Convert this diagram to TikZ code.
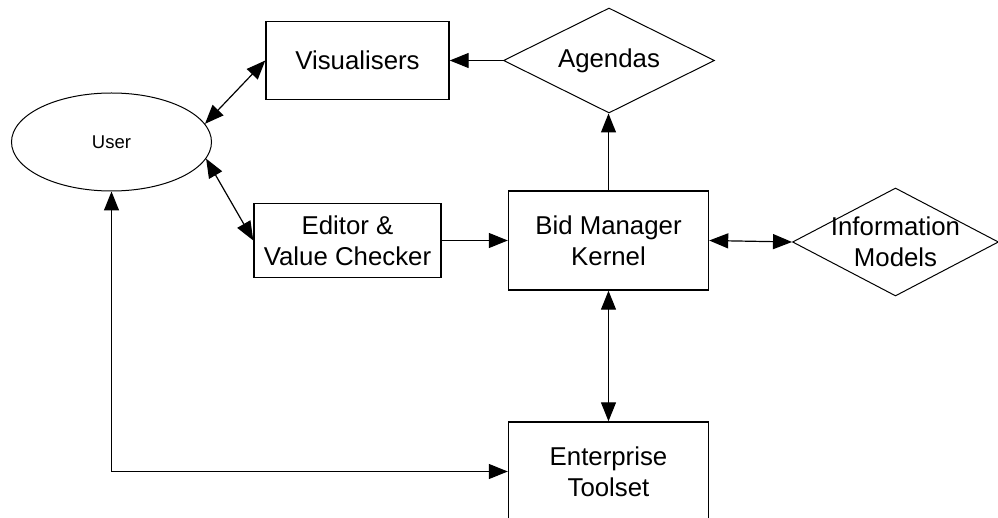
\documentclass[tikz,border=0pt]{standalone}
\usepackage{fontspec}
\setmainfont{Liberation Sans}
\usetikzlibrary{shapes.geometric,arrows.meta}

\begin{document}
\begin{tikzpicture}[x=1pt,y=-1pt,
  mainfont/.style={font=\fontsize{25.8}{31}\selectfont},
  box/.style={draw, line width=1.4pt, inner sep=0pt, align=center, mainfont},
  rhomb/.style={draw, diamond, line width=1pt, inner sep=0pt},
  tip/.tip={Triangle[length=19pt,width=15pt]},
  conn/.style={line width=1.2pt, -tip},
  biconn/.style={line width=1.2pt, tip-tip}]

  % canvas
  \fill[white] (0,0) rectangle (998,518);
  \useasboundingbox (0,0) rectangle (998,518);

  % actor
  \node[draw, ellipse, line width=1pt, inner sep=0pt,
        minimum width=200pt, minimum height=98pt,
        font=\fontsize{18.5}{22}\selectfont] (user) at (111.5,142) {User};

  % components
  \node[box, minimum width=183pt, minimum height=78pt] (vis) at (357.5,60.5) {Visualisers};
  \node[box, minimum width=187pt, minimum height=74pt] (edit) at (347.5,240.5) {Editor \&\\Value Checker};
  \node[box, minimum width=200pt, minimum height=99pt] (bid) at (608.5,240.5) {Bid Manager\\Kernel};
  \node[box, minimum width=200pt, minimum height=99pt] (ent) at (608.5,471.5) {Enterprise\\Toolset};

  % data stores
  \node[rhomb, minimum width=211pt, minimum height=105pt] (agd) at (609,60.5) {};
  \node[mainfont] at (agd) {Agendas};
  \node[rhomb, minimum width=206pt, minimum height=108pt] (info) at (895.5,242) {};
  \node[mainfont, align=center] at (info) {Information\\Models};

  % connectors
  \draw[conn] (agd.west) -- (vis.east);
  \draw[biconn] (user.11) -- (vis.west);
  \draw[biconn] (user.-10) -- (edit.west);
  \draw[conn] (edit.east) -- (bid.west);
  \draw[conn] (bid.north) -- (bid.north |- agd.south);
  \draw[biconn] (bid.east) -- (info.west);
  \draw[biconn] (bid.south) -- (ent.north);
  \draw[biconn] (user.south) |- (ent.west);
\end{tikzpicture}
\end{document}
